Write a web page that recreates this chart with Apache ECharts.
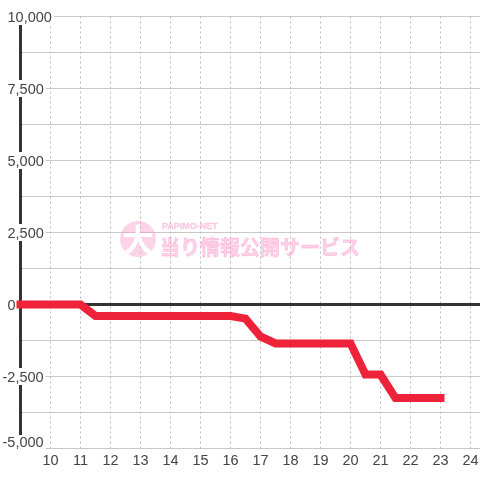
<!DOCTYPE html>
<html>
<head>
<meta charset="utf-8">
<style>
  html, body { margin: 0; padding: 0; background: #fff; }
  #chart { width: 480px; height: 480px; }
</style>
<script src="https://cdn.jsdelivr.net/npm/echarts@6/dist/echarts.min.js"></script>
</head>
<body>
<div id="chart"></div>
<script>
// 時刻（30分刻み）
var hours = [9, 9.5, 10, 10.5, 11, 11.5, 12, 12.5, 13, 13.5, 14, 14.5, 15, 15.5, 16, 16.5,
  17, 17.5, 18, 18.5, 19, 19.5, 20, 20.5, 21, 21.5, 22, 22.5, 23]
// 差玉
var balance = [0, 0, 0, 0, 0, -400, -400, -400, -400, -400, -400, -400, -400, -400, -400, -490,
  -1110, -1350, -1350, -1350, -1350, -1350, -1350, -2430, -2430, -3250, -3250, -3250, -3250]

var chart = echarts.init(document.getElementById('chart'))
var fontFamily = '"Liberation Sans", Arial, sans-serif'
var pink = 'rgba(250, 150, 200, 0.42)'
var xMax = 9 + 459.5 / 30

var labelStyle = { color: '#444', fontFamily: fontFamily, fontSize: 14.5, backgroundColor: '#fff' }

var option = {
  animation: false,
  backgroundColor: '#fff',
  grid: { left: 20.5, top: 16.5, bottom: 31.5, right: 0, outerBoundsMode: 'none' },
  // 透かし
  graphic: [
    { type: 'circle', z: 1, shape: { cx: 138, cy: 239, r: 18 }, style: { fill: pink } },
    {
      type: 'text', z: 1, x: 138, y: 240,
      style: { text: '大', fill: '#fff', font: 'bold 32px "Noto Sans CJK JP"', align: 'center', verticalAlign: 'middle' }
    },
    {
      type: 'text', z: 1, x: 162, y: 227,
      style: { text: 'PAPIMO-NET', fill: pink, stroke: pink, lineWidth: 0.4, font: 'bold 9px "Liberation Sans"', align: 'left', verticalAlign: 'middle' }
    },
    {
      type: 'text', z: 1, x: 160, y: 247,
      style: { text: '当り情報公開サービス', fill: pink, stroke: pink, lineWidth: 0.8, font: 'bold 20px "Noto Sans CJK JP"', align: 'left', verticalAlign: 'middle' }
    }
  ],
  xAxis: [
    {
      type: 'value',
      min: 9,
      max: xMax,
      interval: 1,
      axisLine: { show: false, onZero: false },
      axisTick: { show: false },
      axisLabel: {
        margin: 5,
        color: '#444',
        fontFamily: fontFamily,
        fontSize: 14.5,
        showMaxLabel: false,
        formatter: function (v) {
          return v === 9 || v === xMax ? '' : String(v)
        }
      },
      splitLine: { show: true, showMaxLine: false, lineStyle: { color: '#bbb', width: 1, type: [2, 3] } }
    },
    {
      // 0 の基準線
      type: 'value',
      min: 9,
      max: xMax,
      axisLine: { show: true, onZero: true, lineStyle: { color: '#333', width: 3 } },
      axisTick: { show: false },
      axisLabel: { show: false },
      splitLine: { show: false }
    }
  ],
  yAxis: {
    type: 'value',
    min: -5000,
    max: 10000,
    interval: 1250,
    axisLine: { show: true, onZero: false, lineStyle: { color: '#333', width: 3 } },
    axisTick: { show: false },
    axisLabel: {
      margin: 18,
      align: 'left',
      formatter: function (v) {
        if (v % 2500 !== 0) return ''
        var s = v.toLocaleString('en-US')
        if (v === -5000) return '{low|' + s + '}'
        return v < 0 ? '{neg|' + s + '}' : '{pos|' + s + '}'
      },
      rich: {
        low: Object.assign({}, labelStyle, { padding: [0, 2, 12, 0] }),
        neg: Object.assign({}, labelStyle, { padding: [2, 2, 0, 0] }),
        pos: Object.assign({}, labelStyle, { padding: [2, 2, 0, 5] })
      }
    },
    splitLine: { show: true, lineStyle: { color: '#c8c8c8', width: 1 } }
  },
  series: [
    {
      type: 'line',
      xAxisIndex: 0,
      data: hours.map(function (h, i) { return [h, balance[i]] }),
      symbol: 'none',
      clip: false,
      z: 5,
      lineStyle: { color: '#ee2238', width: 8, cap: 'square', join: 'miter' }
    }
  ]
}

chart.setOption(option)
</script>
</body>
</html>
